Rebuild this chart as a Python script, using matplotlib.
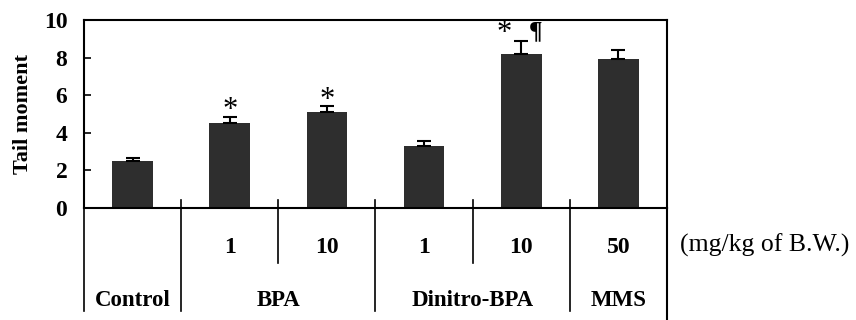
import matplotlib.pyplot as plt

# données
groups = ["Control", "BPA", "Dinitro-BPA", "MMS"]
group_span = [(0, 0), (1, 2), (3, 4), (5, 5)]  # barres couvertes par chaque groupe
doses = ["", "1", "10", "1", "10", "50"]
means = [2.5, 4.5, 5.1, 3.3, 8.2, 7.9]
errs = [0.15, 0.35, 0.3, 0.25, 0.7, 0.5]
marks = ["", "*", "*", "", "*", ""]
marks2 = ["", "", "", "", "\u00b6", ""]
yticks = [0, 2, 4, 6, 8, 10]

plt.rcParams['font.family'] = ['Liberation Serif', 'DejaVu Serif']

fig = plt.figure(figsize=(8.56, 3.2), dpi=100)
ax = fig.add_axes([84/856, 1 - 208/320, (667-84)/856, 188/320])

x = list(range(len(means)))
ax.bar(x, means, width=0.42, color="#2e2e2e",
       yerr=[[0]*len(errs), errs], capsize=5,
       error_kw=dict(ecolor="black", elinewidth=1.5, capthick=1.5))

# étoiles et ¶
for i in x:
    top = means[i] + errs[i]
    if marks[i] and marks2[i]:
        ax.annotate(marks[i], (i, top), xytext=(-12, -5), textcoords="offset points",
                    ha="center", va="bottom", fontsize=22)
        ax.annotate(marks2[i], (i, top), xytext=(10, -2), textcoords="offset points",
                    ha="center", va="bottom", fontsize=18, fontweight="bold")
    elif marks[i]:
        ax.annotate(marks[i], (i, top), xytext=(0, -6), textcoords="offset points",
                    ha="center", va="bottom", fontsize=22)

ax.set_xlim(-0.5, 5.5)
ax.set_ylim(0, 10)
ax.set_yticks(yticks)
ax.set_yticklabels([str(t) for t in yticks], fontsize=17, fontweight="bold")
ax.tick_params(axis="y", direction="in", length=5, width=1.2, pad=12)
ax.set_xticks([])
for s in ax.spines.values():
    s.set_linewidth(1.5)

ax.set_ylabel("Tail moment", fontsize=16, fontweight="bold", labelpad=8)

# tableau sous l'axe
tr = ax.get_xaxis_transform()
for xv in [-0.5, 0.5, 2.5, 4.5]:
    ax.plot([xv, xv], [0.04, -0.55], color="black", lw=1.2, transform=tr, clip_on=False)
ax.plot([5.5, 5.5], [0, -0.62], color="black", lw=1.5, transform=tr, clip_on=False)
for xv in [1.5, 3.5]:
    ax.plot([xv, xv], [0.04, -0.29], color="black", lw=1.2, transform=tr, clip_on=False)

for i, d in enumerate(doses):
    if d:
        ax.text(i, -0.21, d, transform=tr, ha="center", va="center",
                fontsize=17, fontweight="bold")
ax.text(5.63, -0.2, "(mg/kg of B.W.)", transform=tr, ha="left", va="center", fontsize=18.5)

for g, (a, b) in zip(groups, group_span):
    ax.text((a + b) / 2, -0.49, g, transform=tr, ha="center", va="center",
            fontsize=16.5, fontweight="bold")

fig.savefig("out.png", dpi=100)
